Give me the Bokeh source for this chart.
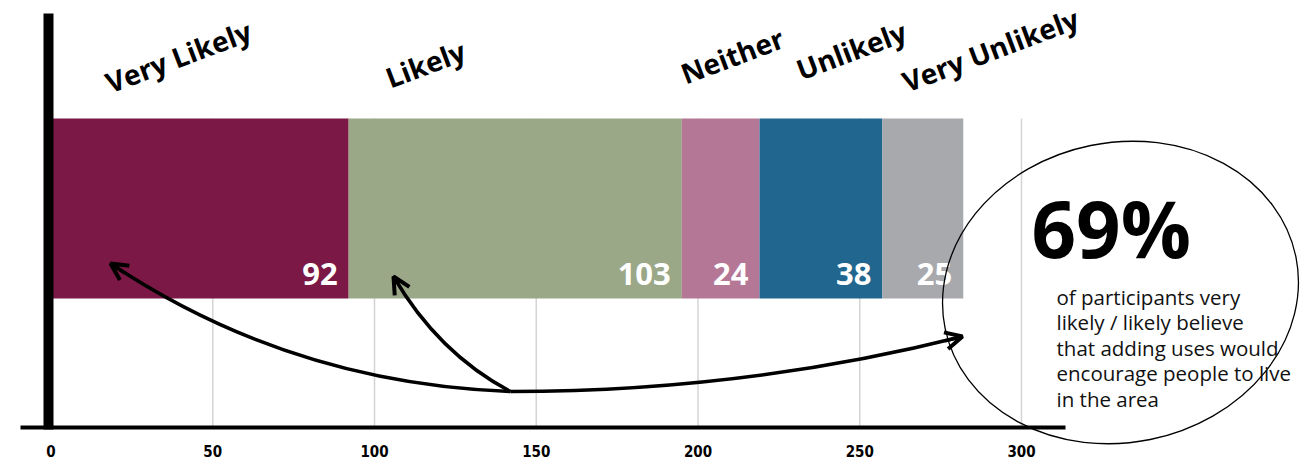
import numpy as np
from bokeh.plotting import figure
from bokeh.models import Range1d, FixedTicker, Arrow, OpenHead
from bokeh.core.properties import value
from bokeh.embed import file_html
from bokeh.resources import INLINE

# ---- data ----
categories = ["Very Likely", "Likely", "Neither", "Unlikely", "Very Unlikely"]
counts = [92, 103, 24, 38, 25]
colors = ["#7B1845", "#9BA888", "#B47896", "#21668E", "#A8A9AD"]
tick_values = [0, 50, 100, 150, 200, 250, 300]
note_lines = ["of participants very", "likely / likely believe", "that adding uses would",
              "encourage people to live", "in the area"]

# ---- layout helpers (pixel positions -> data) ----
W, H = 1307, 462
BOTTOM = 4
FH = H - BOTTOM
PX0 = 50.5     # pixel of x = 0
PXU = 3.235    # pixels per unit


def X(px):
    return (px - PX0) / PXU


def Y(py):
    return FH - py


ends = np.cumsum(counts)
starts = ends - np.array(counts)

p = figure(width=W, height=H, output_backend="svg", toolbar_location=None,
           x_range=Range1d(X(0), X(W)), y_range=Range1d(0, FH),
           min_border_left=0, min_border_right=0, min_border_top=0, min_border_bottom=BOTTOM,
           y_axis_location=None, outline_line_color=None,
           background_fill_color="white", border_fill_color="white")
p.grid.visible = False

ax = p.xaxis[0]
ax.ticker = FixedTicker(ticks=tick_values)
ax.axis_line_color = None
ax.major_tick_line_color = None
ax.minor_tick_line_color = None
ax.major_tick_out = 0
ax.major_tick_in = 0
ax.major_label_standoff = -14
ax.major_label_text_font = "'Liberation Sans Narrow', 'DejaVu Sans Condensed', sans-serif"
ax.major_label_text_font_style = "bold"
ax.major_label_text_font_size = "15px"
ax.major_label_text_color = "black"

BAR_TOP, BAR_BOT = 118, 298
AXIS_Y = 427

# grid lines (from bar top down to axis)
p.segment(x0=tick_values[1:], y0=Y(BAR_TOP), x1=tick_values[1:], y1=Y(AXIS_Y),
          line_color="#d4d4d4", line_width=1.5)

# stacked bar
p.hbar(y=Y((BAR_TOP + BAR_BOT) / 2), left=starts, right=ends, height=BAR_BOT - BAR_TOP,
       fill_color=colors, line_color=None)

# thick left line and axis line
p.segment(x0=X(48), y0=Y(13), x1=X(48), y1=Y(429), line_color="black", line_width=10)
p.segment(x0=X(20), y0=Y(AXIS_Y), x1=X(1065), y1=Y(AXIS_Y), line_color="black", line_width=4)

# value labels
p.text(x=ends, y=Y(273), text=[str(c) for c in counts], x_offset=-11,
       text_align="right", text_baseline="alphabetic", text_color="white",
       text_font=value("Open Sans"), text_font_style="bold", text_font_size="31px")

# rotated category labels
lab_dx = [55.5, 38, 0, 38, 21]
lab_py = [83, 78, 74, 70, 82]
p.text(x=starts, y=[Y(v) for v in lab_py], text=categories, x_offset=lab_dx,
       angle=0.36, text_align="left", text_baseline="alphabetic", text_color="black",
       text_font=value("Open Sans"), text_font_style="bold", text_font_size="28px")

# ellipse callout
p.ellipse(x=X(1120), y=Y(292), width=358, height=300, width_units="screen",
          height_units="screen", angle=0.2, fill_color=None, line_color="black", line_width=1.3)

pct = round(100 * (counts[0] + counts[1]) / sum(counts))
p.text(x=X(1031), y=Y(227), text=[f"{pct}%"], text_align="left", text_baseline="alphabetic",
       text_color="black", text_font=value("Open Sans"), text_font_style="bold",
       text_font_size="78px")
p.text(x=X(1056), y=[Y(296 + 25.5 * i) for i in range(len(note_lines))], text=note_lines,
       text_align="left", text_baseline="alphabetic", text_color="#111111",
       text_font=value("Open Sans"), text_font_size="20.5px")

# curved arrows
curves = [
    ((510, 391), (110, 263), (290, 383)),
    ((510, 391), (962, 336), (744, 391)),
    ((510, 391), (393, 276), (438, 353)),
]
for (a, b, c) in curves:
    p.quadratic(x0=X(a[0]), y0=Y(a[1]), x1=X(b[0]), y1=Y(b[1]), cx=X(c[0]), cy=Y(c[1]),
                line_color="black", line_width=3.5)
    sx = b[0] + 0.08 * (c[0] - b[0])
    sy = b[1] + 0.08 * (c[1] - b[1])
    p.add_layout(Arrow(end=OpenHead(size=17, line_width=4, line_color="black"),
                       x_start=X(sx), y_start=Y(sy), x_end=X(b[0]), y_end=Y(b[1]),
                       line_color="black", line_width=3.5))

open("out.html", "w").write(file_html(p, INLINE))
